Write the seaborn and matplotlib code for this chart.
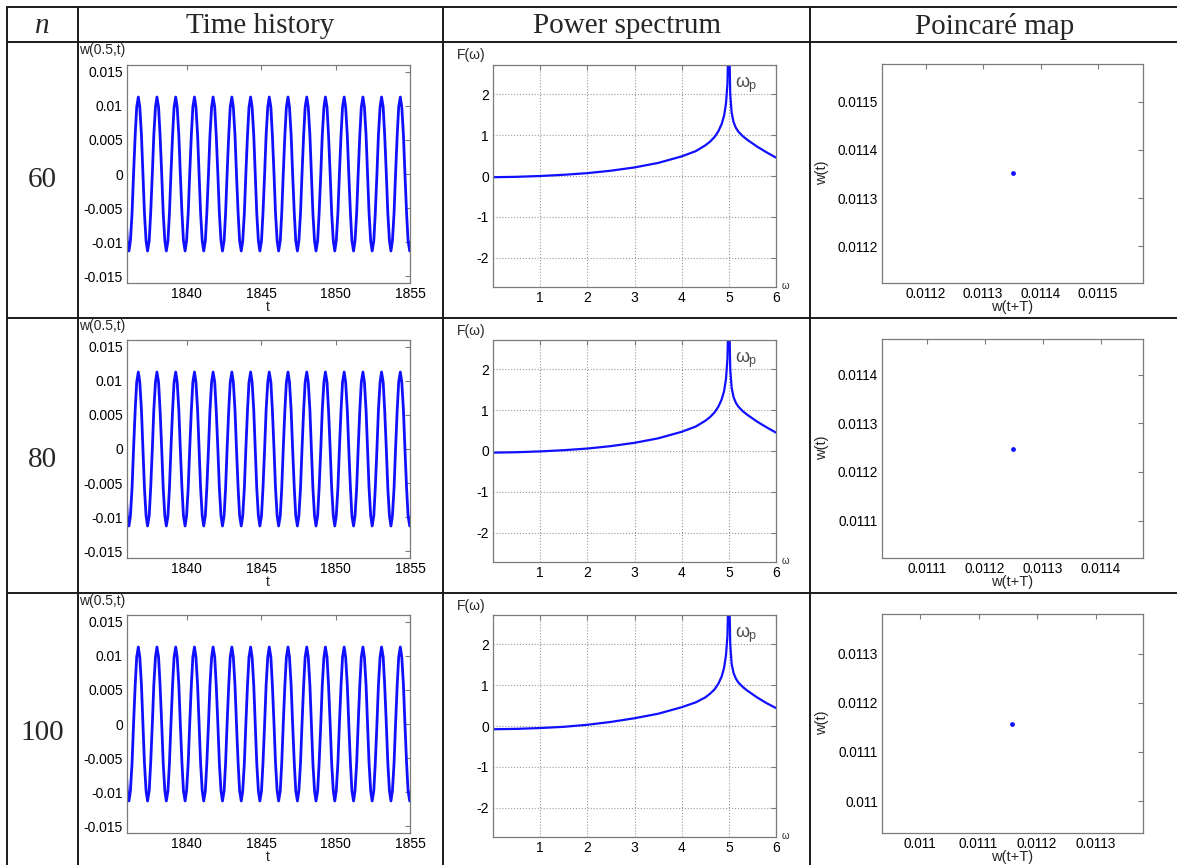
import matplotlib
matplotlib.use('Agg')
import numpy as np
import seaborn as sns
import matplotlib.pyplot as plt
from matplotlib.lines import Line2D
from matplotlib.ticker import FormatStrFormatter

# ---- data ----
row_labels = ['60', '80', '100']
col_titles = ['Time history', 'Power spectrum', 'Poincaré map']

# time history w(0.5,t) (same for all three rows)
t_hist = [
    1835.92, 1836.02,
    1836.13, 1836.23, 1836.34, 1836.44, 1836.55, 1836.65, 1836.76, 1836.86, 1836.97, 1837.07, 1837.17, 1837.28,
    1837.38, 1837.49, 1837.59, 1837.70, 1837.80, 1837.91, 1838.01, 1838.12, 1838.22, 1838.33, 1838.43, 1838.54,
    1838.64, 1838.75, 1838.85, 1838.95, 1839.06, 1839.16, 1839.27, 1839.37, 1839.48, 1839.58, 1839.69, 1839.79,
    1839.90, 1840.00, 1840.11, 1840.21, 1840.32, 1840.42, 1840.53, 1840.63, 1840.74, 1840.84, 1840.94, 1841.05,
    1841.15, 1841.26, 1841.36, 1841.47, 1841.57, 1841.68, 1841.78, 1841.89, 1841.99, 1842.10, 1842.20, 1842.31,
    1842.41, 1842.52, 1842.62, 1842.72, 1842.83, 1842.93, 1843.04, 1843.14, 1843.25, 1843.35, 1843.46, 1843.56,
    1843.67, 1843.77, 1843.88, 1843.98, 1844.09, 1844.19, 1844.30, 1844.40, 1844.51, 1844.61, 1844.71, 1844.82,
    1844.92, 1845.03, 1845.13, 1845.24, 1845.34, 1845.45, 1845.55, 1845.66, 1845.76, 1845.87, 1845.97, 1846.08,
    1846.18, 1846.29, 1846.39, 1846.49, 1846.60, 1846.70, 1846.81, 1846.91, 1847.02, 1847.12, 1847.23, 1847.33,
    1847.44, 1847.54, 1847.65, 1847.75, 1847.86, 1847.96, 1848.07, 1848.17, 1848.28, 1848.38, 1848.48, 1848.59,
    1848.69, 1848.80, 1848.90, 1849.01, 1849.11, 1849.22, 1849.32, 1849.43, 1849.53, 1849.64, 1849.74, 1849.85,
    1849.95, 1850.05, 1850.16, 1850.26, 1850.37, 1850.47, 1850.58, 1850.68, 1850.79, 1850.89, 1851.00, 1851.10,
    1851.21, 1851.31, 1851.42, 1851.52, 1851.63, 1851.73, 1851.84, 1851.94, 1852.05, 1852.15, 1852.25, 1852.36,
    1852.46, 1852.57, 1852.67, 1852.78, 1852.88, 1852.99, 1853.09, 1853.20, 1853.30, 1853.41, 1853.51, 1853.62,
    1853.72, 1853.82, 1853.93, 1854.03, 1854.14, 1854.24, 1854.35, 1854.45, 1854.56, 1854.66, 1854.77, 1854.87,
    1854.98, 1855.08,
]
w_hist = [
    -0.0057, -0.0098,
    -0.0113, -0.0098, -0.0057, 0.0, 0.0057, 0.0098, 0.0113, 0.0098, 0.0057, 0.0, -0.0057, -0.0098,
    -0.0113, -0.0098, -0.0057, 0.0, 0.0057, 0.0098, 0.0113, 0.0098, 0.0057, 0.0, -0.0057, -0.0098,
    -0.0113, -0.0098, -0.0057, 0.0, 0.0057, 0.0098, 0.0113, 0.0098, 0.0057, 0.0, -0.0057, -0.0098,
    -0.0113, -0.0098, -0.0057, 0.0, 0.0057, 0.0098, 0.0113, 0.0098, 0.0057, 0.0, -0.0057, -0.0098,
    -0.0113, -0.0098, -0.0057, 0.0, 0.0057, 0.0098, 0.0113, 0.0098, 0.0057, 0.0, -0.0057, -0.0098,
    -0.0113, -0.0098, -0.0057, 0.0, 0.0057, 0.0098, 0.0113, 0.0098, 0.0057, 0.0, -0.0057, -0.0098,
    -0.0113, -0.0098, -0.0057, 0.0, 0.0057, 0.0098, 0.0113, 0.0098, 0.0057, 0.0, -0.0057, -0.0098,
    -0.0113, -0.0098, -0.0057, 0.0, 0.0057, 0.0098, 0.0113, 0.0098, 0.0057, 0.0, -0.0057, -0.0098,
    -0.0113, -0.0098, -0.0057, 0.0, 0.0057, 0.0098, 0.0113, 0.0098, 0.0057, 0.0, -0.0057, -0.0098,
    -0.0113, -0.0098, -0.0057, 0.0, 0.0057, 0.0098, 0.0113, 0.0098, 0.0057, 0.0, -0.0057, -0.0098,
    -0.0113, -0.0098, -0.0057, 0.0, 0.0057, 0.0098, 0.0113, 0.0098, 0.0057, 0.0, -0.0057, -0.0098,
    -0.0113, -0.0098, -0.0057, 0.0, 0.0057, 0.0098, 0.0113, 0.0098, 0.0057, 0.0, -0.0057, -0.0098,
    -0.0113, -0.0098, -0.0057, 0.0, 0.0057, 0.0098, 0.0113, 0.0098, 0.0057, 0.0, -0.0057, -0.0098,
    -0.0113, -0.0098, -0.0057, 0.0, 0.0057, 0.0098, 0.0113, 0.0098, 0.0057, 0.0, -0.0057, -0.0098,
    -0.0113, -0.0098, -0.0057, 0.0, 0.0057, 0.0098, 0.0113, 0.0098, 0.0057, 0.0, -0.0057, -0.0098,
    -0.0113, -0.0098,
]

# power spectrum F(omega)
omega = [0.0, 0.5, 1.0, 1.5, 2.0, 2.5, 3.0, 3.5, 4.0, 4.3, 4.5, 4.6, 4.7, 4.78, 4.85, 4.9,
         4.94, 4.97, 4.99, 5.0, 5.01, 5.03, 5.06, 5.1, 5.15, 5.2, 5.3, 5.4, 5.5, 5.6, 5.8, 6.0]
F_60 = [-0.03, -0.02, 0.0, 0.03, 0.07, 0.13, 0.21, 0.32, 0.48, 0.61, 0.75, 0.84, 0.96, 1.1, 1.28, 1.48,
        1.78, 2.25, 3.2, 3.5, 3.2, 2.0, 1.55, 1.32, 1.18, 1.09, 0.97, 0.88, 0.8, 0.72, 0.58, 0.45]
F_80 = [-0.04, -0.03, -0.01, 0.02, 0.06, 0.12, 0.2, 0.31, 0.47, 0.6, 0.74, 0.83, 0.95, 1.09, 1.27, 1.47,
        1.77, 2.25, 3.2, 3.5, 3.2, 2.0, 1.55, 1.32, 1.18, 1.09, 0.97, 0.88, 0.8, 0.72, 0.58, 0.45]
F_100 = [-0.08, -0.07, -0.05, -0.02, 0.03, 0.1, 0.19, 0.3, 0.46, 0.58, 0.7, 0.79, 0.9, 1.04, 1.22, 1.43,
         1.74, 2.2, 3.2, 3.5, 3.2, 2.0, 1.52, 1.3, 1.16, 1.07, 0.95, 0.86, 0.78, 0.7, 0.56, 0.44]
spectra = [F_60, F_80, F_100]

# poincare map single points (w(t+T), w(t))
poincare_pts = [0.011351, 0.011248, 0.011158]
poincare_ticks = [[0.0112, 0.0113, 0.0114, 0.0115],
                  [0.0111, 0.0112, 0.0113, 0.0114],
                  [0.011, 0.0111, 0.0112, 0.0113]]

th_yticks = [-0.015, -0.01, -0.005, 0, 0.005, 0.01, 0.015]
th_xticks = [1840, 1845, 1850, 1855]
ps_xticks = [1, 2, 3, 4, 5, 6]
ps_yticks = [-2, -1, 0, 1, 2]

# ---- style ----
sns.set_style('white')
plt.rcParams['font.family'] = ['Liberation Sans', 'DejaVu Sans']
plt.rcParams['axes.unicode_minus'] = False

W, H = 1177, 865
fig = plt.figure(figsize=(W / 100, H / 100), dpi=100)
fig.patch.set_facecolor('white')


def box(left, top, width, height):
    return [left / W, 1 - (top + height) / H, width / W, height / H]


def ftext(x, y, s, **kw):
    fig.text(x / W, 1 - y / H, s, **kw)


def style(ax, size=10):
    for sp in ax.spines.values():
        sp.set_color('#7a7a7a')
        sp.set_linewidth(0.9)
    ax.tick_params(direction='in', length=3.5, width=0.8, color='#7a7a7a',
                   top=True, right=True, labelsize=size, labelcolor='black', pad=3)
    ax.set_xlabel('')
    ax.set_ylabel('')


BLUE = '#1010ff'
serif = ['Liberation Serif', 'DejaVu Serif']

# table lines
row_lines = [7, 42, 318, 593]
for y in row_lines:
    fig.add_artist(Line2D([7 / W, 1], [1 - y / H, 1 - y / H], transform=fig.transFigure,
                          color='#1a1a1a', lw=1.4))
for x in [7, 78, 443, 810]:
    fig.add_artist(Line2D([x / W, x / W], [1 - 7 / H, 0], transform=fig.transFigure,
                          color='#1a1a1a', lw=1.4))

# header
ftext(42, 26, 'n', fontsize=21, family=serif, style='italic', ha='center', va='center')
for title, xc in zip(col_titles, [260, 627, 995]):
    ftext(xc, 26, title, fontsize=21, family=serif, ha='center', va='center')

row_y = [180, 460, 733]
tops = [65, 340, 615]

for r in range(3):
    top = tops[r]
    dy = top - 65
    line_y = row_lines[r + 1]
    ftext(42, row_y[r], row_labels[r], fontsize=21, family=serif, ha='center', va='center')

    # time history
    ax = fig.add_axes(box(127, top, 283, 218))
    sns.lineplot(x=t_hist, y=w_hist, ax=ax, color=BLUE, lw=2.0, sort=False, estimator=None)
    ax.set_xlim(1836, 1855)
    ax.set_ylim(-0.016, 0.016)
    ax.set_xticks(th_xticks)
    ax.set_yticks(th_yticks)
    ax.yaxis.set_major_formatter(FormatStrFormatter('%g'))
    style(ax)
    ftext(79, line_y + 8, 'w(0.5,t)', fontsize=10, ha='left', va='center')
    ftext(268, 307 + dy, 't', fontsize=10, ha='center', va='center')

    # power spectrum
    ax = fig.add_axes(box(493, top, 283, 222))
    sns.lineplot(x=omega, y=spectra[r], ax=ax, color=BLUE, lw=1.6, sort=False, estimator=None)
    ax.set_xlim(0, 6)
    ax.set_ylim(-2.72, 2.72)
    ax.set_xticks(ps_xticks)
    ax.set_yticks(ps_yticks)
    ax.grid(True, ls=':', color='#9a9a9a', lw=0.8)
    style(ax)
    ax.text(5.13, 2.3, 'ω', color='#4a4a4a', fontsize=13, va='center', ha='left')
    ax.text(5.41, 2.2, 'p', color='#4a4a4a', fontsize=9, va='center', ha='left')
    ftext(457, line_y + 13, 'F(ω)', fontsize=10, ha='left', va='center')
    ftext(782, 286 + dy, 'ω', fontsize=7, ha='left', va='center')

    # poincare map
    p = poincare_pts[r]
    ax = fig.add_axes(box(882, top - 1, 261, 219))
    sns.scatterplot(x=[p], y=[p], ax=ax, color=BLUE, s=12, edgecolor=BLUE, linewidth=0)
    ax.set_xlim(p * 0.98, p * 1.02)
    ax.set_ylim(p * 0.98, p * 1.02)
    ax.set_xticks(poincare_ticks[r])
    ax.set_yticks(poincare_ticks[r])
    ax.xaxis.set_major_formatter(FormatStrFormatter('%g'))
    ax.yaxis.set_major_formatter(FormatStrFormatter('%g'))
    style(ax, size=9.8)
    ftext(822, 173 + dy, 'w(t)', fontsize=10.5, rotation=90, ha='center', va='center')
    ftext(1012, 307 + dy, 'w(t+T)', fontsize=10.5, ha='center', va='center')

fig.savefig('out.png', dpi=100, facecolor='white')
